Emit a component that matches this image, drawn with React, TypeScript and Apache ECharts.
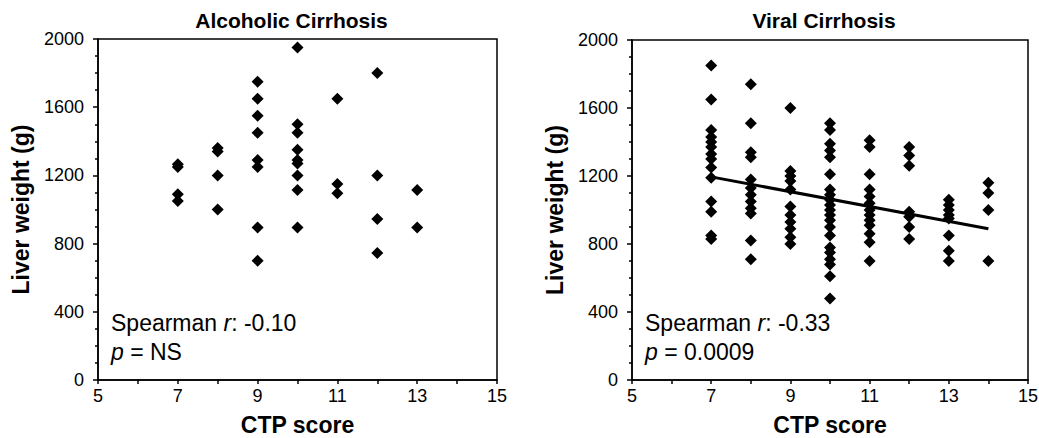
import React, { useEffect, useRef } from "react";
import * as echarts from "echarts";

const FONT = '"Liberation Sans", Arial, Helvetica, sans-serif';

// CTP score categories and liver weights (g)
const alcoholicScores = [7, 8, 9, 10, 11, 12, 13];
const alcoholicWeights = [
  [1265, 1250, 1090, 1050],
  [1360, 1340, 1200, 1000],
  [1750, 1650, 1550, 1450, 1290, 1250, 895, 700],
  [1950, 1500, 1450, 1350, 1290, 1270, 1200, 1115, 895],
  [1650, 1150, 1095],
  [1800, 1200, 945, 745],
  [1115, 895],
];

const viralScores = [7, 8, 9, 10, 11, 12, 13, 14];
const viralWeights = [
  [1850, 1650, 1470, 1430, 1400, 1370, 1330, 1300, 1250, 1190, 1050, 990, 850, 830],
  [1740, 1510, 1340, 1310, 1180, 1130, 1090, 1050, 1010, 980, 820, 710],
  [1600, 1230, 1200, 1170, 1120, 1020, 970, 930, 890, 840, 800],
  [1510, 1470, 1390, 1350, 1310, 1210, 1120, 1090, 1060, 1030, 1000, 970, 940, 900, 850, 780, 750, 710, 680, 610, 480],
  [1410, 1370, 1210, 1120, 1080, 1040, 1000, 970, 940, 910, 860, 810, 700],
  [1370, 1320, 1260, 990, 960, 900, 830],
  [1060, 1030, 1000, 970, 950, 850, 760, 700],
  [1160, 1100, 1000, 700],
];

// regression line endpoints (viral panel)
const viralFit = [
  [7, 1195],
  [14, 890],
];

const xTicks = { min: 5, max: 15, interval: 2 };
const yTicks = { min: 0, max: 2000, interval: 400 };

const panelTitles = ["Alcoholic Cirrhosis", "Viral Cirrhosis"];
const spearmanR = ["-0.10", "-0.33"];
const pValues = ["NS", "0.0009"];

// layout
const GRIDS = [
  { left: 98, top: 39, width: 399, height: 341 },
  { left: 632, top: 40, width: 396, height: 340 },
];

function toPoints(scores: number[], weights: number[][]) {
  const out: number[][] = [];
  scores.forEach((s, i) => weights[i].forEach((w) => out.push([s, w])));
  return out;
}

function makeX(gridIndex: number) {
  return {
    type: "value",
    gridIndex,
    min: xTicks.min,
    max: xTicks.max,
    interval: xTicks.interval,
    axisLine: { show: true, lineStyle: { color: "#000", width: 1.5 } },
    axisTick: { show: true, inside: false, length: 4, lineStyle: { color: "#000", width: 1.5 } },
    minorTick: { show: true, splitNumber: 2, length: 4, lineStyle: { color: "#000", width: 1.5 } },
    splitLine: { show: false },
    minorSplitLine: { show: false },
    axisLabel: { color: "#000", fontSize: 18, fontFamily: FONT, margin: 7, formatter: (v: number) => String(v) },
    name: "CTP score",
    nameLocation: "middle",
    nameGap: 33,
    nameTextStyle: { color: "#000", fontSize: 23, fontWeight: "bold", fontFamily: FONT },
  };
}

function makeY(gridIndex: number) {
  return {
    type: "value",
    gridIndex,
    min: yTicks.min,
    max: yTicks.max,
    interval: yTicks.interval,
    axisLine: { show: true, lineStyle: { color: "#000", width: 1.5 } },
    axisTick: { show: true, inside: false, length: 5, lineStyle: { color: "#000", width: 1.5 } },
    minorTick: { show: true, splitNumber: 4, length: 3, lineStyle: { color: "#000", width: 1.5 } },
    splitLine: { show: false },
    minorSplitLine: { show: false },
    axisLabel: { color: "#000", fontSize: 18, fontFamily: FONT, margin: 14, formatter: (v: number) => String(v) },
    name: "Liver weight (g)",
    nameLocation: "middle",
    nameGap: 66,
    nameRotate: 90,
    nameTextStyle: { color: "#000", fontSize: 23, fontWeight: "bold", fontFamily: FONT },
  };
}

export default function App() {
  const ref = useRef<HTMLDivElement>(null);

  useEffect(() => {
    if (!ref.current) return;
    const chart = echarts.init(ref.current, undefined, { renderer: "svg" });

    const graphics: any[] = [];
    GRIDS.forEach((g, i) => {
      graphics.push({
        type: "text",
        x: g.left + g.width / 2 - 6,
        y: 20,
        style: {
          text: panelTitles[i],
          fontSize: 21,
          fontWeight: "bold",
          fontFamily: FONT,
          fill: "#000",
          align: "center",
          verticalAlign: "middle",
        },
      });
      const rich = {
        n: { fontSize: 23, fontFamily: FONT, fill: "#000" },
        i: { fontSize: 23, fontFamily: FONT, fontStyle: "italic", fill: "#000" },
      };
      graphics.push({
        type: "text",
        x: g.left + 13,
        y: 323,
        style: {
          text: `{n|Spearman }{i|r}{n|: ${spearmanR[i]}}`,
          rich,
          align: "left",
          verticalAlign: "middle",
        },
      });
      graphics.push({
        type: "text",
        x: g.left + 13,
        y: 352,
        style: {
          text: `{i|p}{n| = ${pValues[i]}}`,
          rich,
          align: "left",
          verticalAlign: "middle",
        },
      });
    });

    const scatterStyle = {
      type: "scatter",
      symbol: "diamond",
      symbolSize: [12, 12],
      itemStyle: { color: "#000", opacity: 1 },
      silent: true,
    };

    chart.setOption({
      animation: false,
      backgroundColor: "#fff",
      grid: GRIDS.map((g) => ({
        ...g,
        show: true,
        borderColor: "#000",
        borderWidth: 1.5,
        backgroundColor: "transparent",
        containLabel: false,
        outerBoundsMode: "none",
      })),
      xAxis: [makeX(0), makeX(1)],
      yAxis: [makeY(0), makeY(1)],
      graphic: graphics,
      series: [
        { ...scatterStyle, xAxisIndex: 0, yAxisIndex: 0, data: toPoints(alcoholicScores, alcoholicWeights) },
        { ...scatterStyle, xAxisIndex: 1, yAxisIndex: 1, data: toPoints(viralScores, viralWeights) },
        {
          type: "line",
          xAxisIndex: 1,
          yAxisIndex: 1,
          data: viralFit,
          showSymbol: false,
          symbol: "none",
          lineStyle: { color: "#000", width: 3 },
          silent: true,
          z: 3,
        },
      ],
    });

    return () => chart.dispose();
  }, []);

  return (
    <div
      ref={ref}
      style={{ position: "absolute", left: 0, top: 0, width: 1039, height: 438, background: "#fff" }}
    />
  );
}
